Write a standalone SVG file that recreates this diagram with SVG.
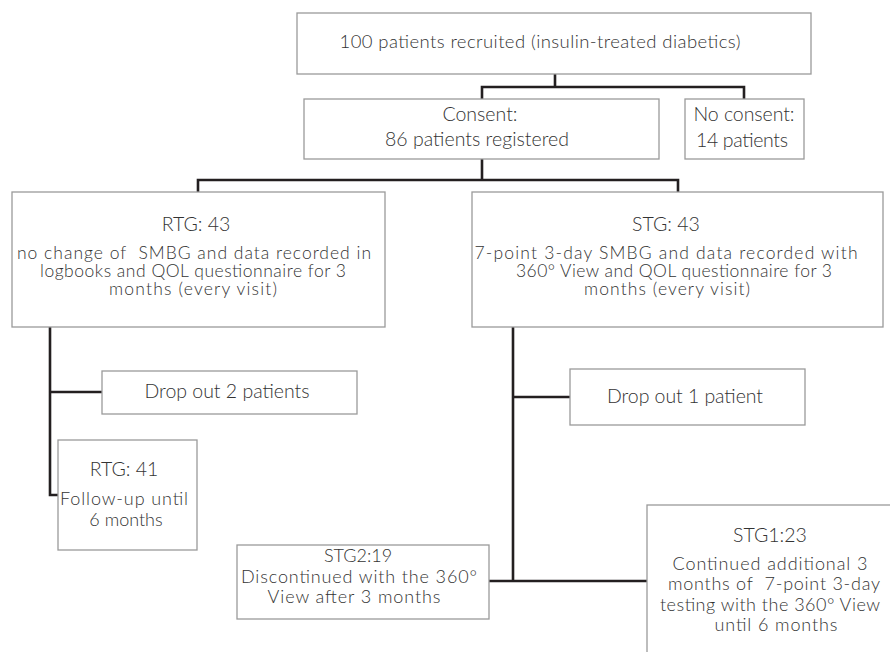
<svg xmlns="http://www.w3.org/2000/svg" width="890" height="652" viewBox="0 0 890 652">
<style>
.box{fill:#fff;stroke:#9a9a9a;stroke-width:1.3}
.t{font-family:Lato,"Open Sans","Liberation Sans",sans-serif;font-weight:300;font-size:19.5px;fill:#333;text-anchor:middle}
.s{font-size:18.5px}
.b{font-size:17.5px}
.m{font-size:18px}
.c{fill:none;stroke:#231f20;stroke-width:2.6;stroke-linecap:square}
</style>
<rect width="890" height="652" fill="#fff"/>
<g id="connectors">
<path class="c" d="M555,74 V87 M482,87 H744 M482,87 V99 M744,87 V99"/>
<path class="c" d="M482,159 V180 M198,180 H678 M198,180 V192 M678,180 V192"/>
<path class="c" d="M50,327 V495 H58 M50,392 H102"/>
<path class="c" d="M513,327 V581 M513,397 H570 M490,581 H647"/>
</g>
<g id="recruited">
<rect class="box" x="297" y="13" width="514" height="61"/>
<text class="t s" x="540" y="48" textLength="401">100 patients recruited (insulin-treated diabetics)</text>
</g>
<g id="consent">
<rect class="box" x="304" y="99" width="355" height="60"/>
<text class="t" x="480" y="121">Consent:</text>
<text class="t" x="477" y="146" textLength="184">86 patients registered</text>
</g>
<g id="noconsent">
<rect class="box" x="685" y="99" width="119" height="60"/>
<text class="t" x="744" y="121" textLength="101">No consent:</text>
<text class="t" x="742" y="147" textLength="92">14 patients</text>
</g>
<g id="rtg">
<rect class="box" x="12" y="192" width="373" height="135"/>
<text class="t" x="196" y="231">RTG: 43</text>
<text class="t b" x="194" y="259" textLength="354" xml:space="preserve">no change of  SMBG and data recorded in</text>
<text class="t b" x="193" y="277" textLength="306">logbooks and QOL questionnaire for 3</text>
<text class="t b" x="193" y="295" textLength="168">months (every visit)</text>
</g>
<g id="stg">
<rect class="box" x="472" y="192" width="411" height="135"/>
<text class="t" x="666" y="231">STG: 43</text>
<text class="t b" x="666" y="259" textLength="383">7-point 3-day SMBG and data recorded with</text>
<text class="t b" x="674" y="277" textLength="316">360° View and QOL questionnaire for 3</text>
<text class="t b" x="667" y="295" textLength="166">months (every visit)</text>
</g>
<g id="dropout2">
<rect class="box" x="102" y="371" width="255" height="43"/>
<text class="t" x="227" y="398" textLength="165">Drop out 2 patients</text>
</g>
<g id="rtg41">
<rect class="box" x="58" y="440" width="139" height="110"/>
<text class="t" x="124" y="476">RTG: 41</text>
<text class="t m" x="124" y="505" textLength="128">Follow-up until</text>
<text class="t m" x="126" y="526">6 months</text>
</g>
<g id="dropout1">
<rect class="box" x="570" y="369" width="235" height="56"/>
<text class="t" x="685" y="403" textLength="156">Drop out 1 patient</text>
</g>
<g id="stg2">
<rect class="box" x="237" y="545" width="252" height="74"/>
<text class="t m" x="358" y="562">STG2:19</text>
<text class="t m" x="359" y="583" textLength="236">Discontinued with the 360°</text>
<text class="t m" x="354" y="603" textLength="173">View after 3 months</text>
</g>
<g id="stg1">
<rect class="box" x="647" y="505" width="260" height="170"/>
<text class="t" x="770" y="542">STG1:23</text>
<text class="t m" x="770" y="570" textLength="195">Continued additional 3</text>
<text class="t m" x="774" y="590" textLength="212" xml:space="preserve">months of  7-point 3-day</text>
<text class="t m" x="770" y="611" textLength="220">testing with the 360° View</text>
<text class="t m" x="776" y="631" textLength="123">until 6 months</text>
</g>
</svg>
